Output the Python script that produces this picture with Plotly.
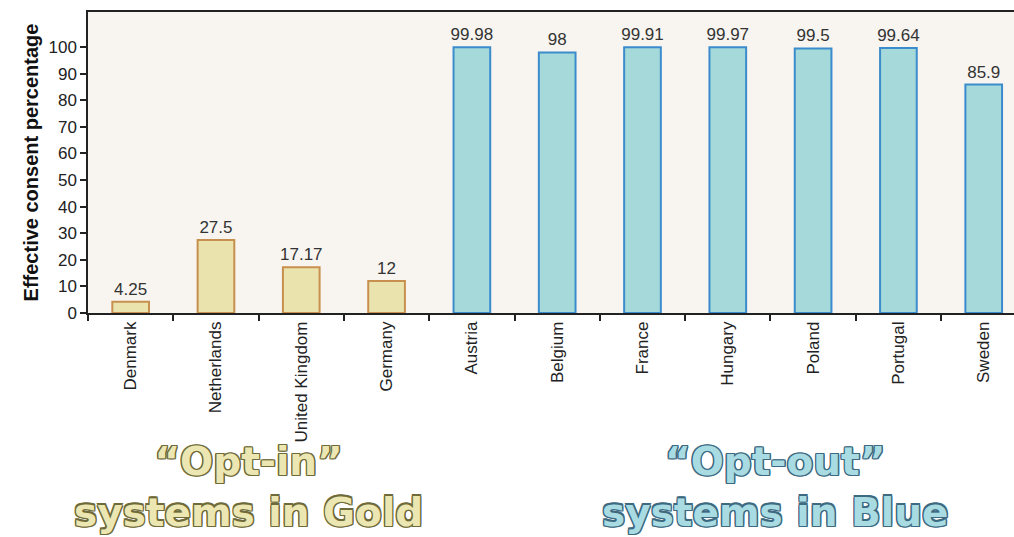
import plotly.graph_objects as go

opt_in_countries = ["Denmark", "Netherlands", "United Kingdom", "Germany"]
opt_in_values = [4.25, 27.5, 17.17, 12]
opt_out_countries = ["Austria", "Belgium", "France", "Hungary", "Poland", "Portugal", "Sweden"]
opt_out_values = [99.98, 98, 99.91, 99.97, 99.5, 99.64, 85.9]
y_ticks = [0, 10, 20, 30, 40, 50, 60, 70, 80, 90, 100]

categories = opt_in_countries + opt_out_countries

label_font = dict(family="Liberation Sans, Arial", size=17, color="#333333")

fig = go.Figure()
fig.add_trace(go.Bar(
    x=opt_in_countries, y=opt_in_values, width=0.43,
    marker=dict(color="#ebe3ae", line=dict(color="#c8904e", width=2)),
    text=[str(v) for v in opt_in_values], textposition="outside", constraintext="none",
    textfont=label_font, cliponaxis=False, showlegend=False,
))
fig.add_trace(go.Bar(
    x=opt_out_countries, y=opt_out_values, width=0.43,
    marker=dict(color="#a6d9d9", line=dict(color="#3a8ccc", width=2)),
    text=[str(v) for v in opt_out_values], textposition="outside", constraintext="none",
    textfont=label_font, cliponaxis=False, showlegend=False,
))

def outline(c, w=1.2):
    offs = [(w, w), (-w, -w), (w, -w), (-w, w), (0, w), (0, -w), (w, 0), (-w, 0)]
    return ", ".join(f"{a}px {b}px 0 {c}" for a, b in offs)

big_font = "DejaVu Sans, Verdana"

annos = [
    ("\u201cOpt-in\u201d<br>systems in Gold", 248, 536, "#ece7b2", outline("#6f6a3a")),
    ("\u201cOpt-out\u201d<br>systems in Blue", 775, 536, "#a9dbe3", outline("#3d6a80")),
]
W, H = 1014, 537
for txt, px, py, col, sh in annos:
    fig.add_annotation(
        text=txt, xref="paper", yref="paper",
        x=(px - 88) / (W - 88), y=(H - 224 - py) / (H - 224 - 12),
        xanchor="center", yanchor="bottom", showarrow=False, borderpad=0,
        font=dict(family=big_font, size=39, color=col, weight="bold", shadow=sh),
    )

fig.update_layout(
    width=W, height=H,
    margin=dict(l=88, r=0, t=12, b=224),
    paper_bgcolor="white", plot_bgcolor="#f8f5f0",
    barmode="overlay",
    font=dict(family="Liberation Sans, Arial", color="#222222"),
    xaxis=dict(
        type="category", categoryorder="array", categoryarray=categories,
        range=[-0.5, 10.355], tickson="boundaries", ticks="outside", ticklen=6,
        tickcolor="#222", tickwidth=1.5,
        showline=True, linecolor="#222", linewidth=1.5, mirror=True,
        tickangle=-90, tickfont=dict(size=17, color="#222"), showgrid=False,
    ),
    yaxis=dict(
        range=[0, 113.2], tickvals=y_ticks, ticks="outside", ticklen=6,
        tickcolor="#222", tickwidth=1.5,
        showline=True, linecolor="#222", linewidth=1.5, showgrid=False, zeroline=False,
        tickfont=dict(size=17, color="#222"),
        title=dict(text="Effective consent percentage", font=dict(size=20, color="#111", weight="bold"), standoff=4),
    ),
)

fig.write_html("out.html")
